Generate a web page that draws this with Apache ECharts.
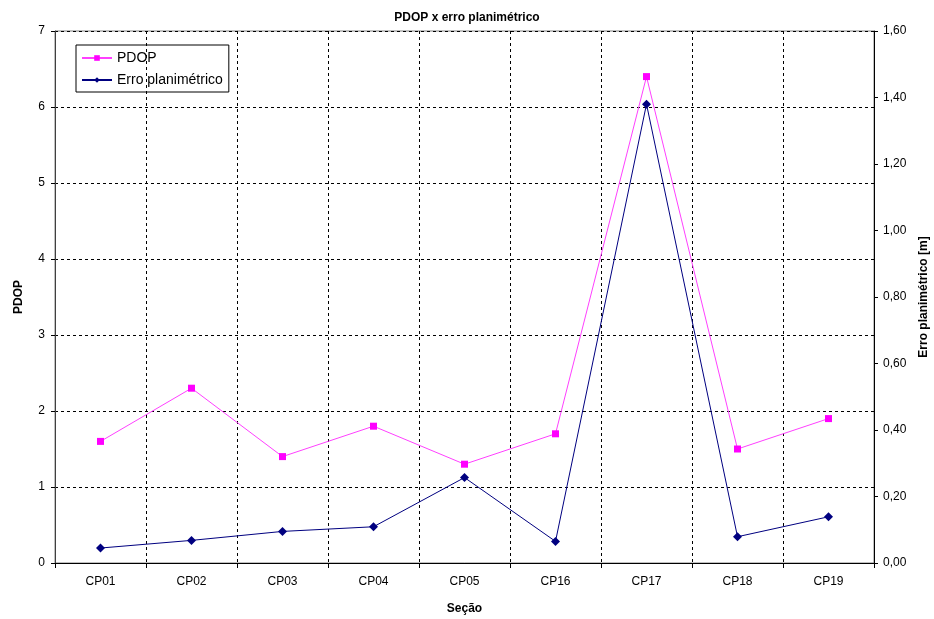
<!DOCTYPE html>
<html>
<head>
<meta charset="utf-8">
<script src="https://cdn.jsdelivr.net/npm/echarts@6/dist/echarts.min.js"></script>
<style>
  html, body { margin: 0; padding: 0; background: #fff; }
  #chart { width: 934px; height: 619px; }
</style>
</head>
<body>
<div id="chart"></div>
<script>
// dados
const secoes = ['CP01', 'CP02', 'CP03', 'CP04', 'CP05', 'CP16', 'CP17', 'CP18', 'CP19'];
const pdop = [1.6, 2.3, 1.4, 1.8, 1.3, 1.7, 6.4, 1.5, 1.9];
const erroPlan = [0.045, 0.068, 0.095, 0.109, 0.257, 0.065, 1.38, 0.079, 0.139];

const font = 'Liberation Sans, Arial, sans-serif';
const dashed = { color: '#000', width: 1, type: [3, 3] };

let myChart = echarts.init(document.getElementById('chart'));
myChart.setOption({
  backgroundColor: '#fff',
  animation: false,
  title: {
    text: 'PDOP x erro planimétrico',
    left: 'center',
    top: 7,
    textStyle: { fontFamily: font, fontSize: 12, fontWeight: 'bold', color: '#000' }
  },
  legend: {
    orient: 'vertical',
    left: 76,
    top: 45,
    borderColor: '#000',
    borderWidth: 1,
    padding: [6, 6, 5, 5],
    itemGap: 8,
    itemWidth: 30,
    itemHeight: 7,
    textStyle: { fontFamily: font, fontSize: 14, color: '#000' },
    data: ['PDOP', 'Erro planimétrico']
  },
  grid: {
    left: 55,
    right: 60,
    top: 31,
    bottom: 56,
    show: true,
    borderColor: '#808080',
    borderWidth: 1,
    containLabel: false,
    outerBoundsMode: 'none'
  },
  xAxis: {
    type: 'category',
    data: secoes,
    boundaryGap: true,
    name: 'Seção',
    nameLocation: 'middle',
    nameGap: 40,
    nameTextStyle: { fontFamily: font, fontSize: 12, fontWeight: 'bold', color: '#000' },
    axisLine: { lineStyle: { color: '#000', width: 1 } },
    axisTick: { show: true, length: 5, lineStyle: { color: '#000' } },
    axisLabel: { fontFamily: font, fontSize: 12, color: '#000', margin: 13 },
    splitLine: { show: true, lineStyle: dashed }
  },
  yAxis: [
    {
      type: 'value',
      min: 0,
      max: 7,
      interval: 1,
      name: 'PDOP',
      nameLocation: 'middle',
      nameGap: 30,
      nameRotate: 90,
      nameTextStyle: { fontFamily: font, fontSize: 12, fontWeight: 'bold', color: '#000' },
      axisLine: { show: true, lineStyle: { color: '#404040', width: 1 } },
      axisTick: { show: true, length: 4, lineStyle: { color: '#000' } },
      axisLabel: { fontFamily: font, fontSize: 12, color: '#000', margin: 10 },
      splitLine: { show: true, lineStyle: dashed }
    },
    {
      type: 'value',
      position: 'right',
      min: 0,
      max: 1.6,
      interval: 0.2,
      name: 'Erro planimétrico [m]',
      nameLocation: 'middle',
      nameGap: 42,
      nameRotate: 90,
      nameTextStyle: { fontFamily: font, fontSize: 12, fontWeight: 'bold', color: '#000' },
      axisLine: { show: true, lineStyle: { color: '#000', width: 1 } },
      axisTick: { show: true, length: 4, lineStyle: { color: '#000' } },
      axisLabel: {
        fontFamily: font, fontSize: 12, color: '#000', margin: 9,
        formatter: (v) => v.toFixed(2).replace('.', ',')
      },
      splitLine: { show: false }
    }
  ],
  series: [
    {
      name: 'PDOP',
      type: 'line',
      yAxisIndex: 0,
      data: pdop,
      symbol: 'rect',
      symbolSize: 7,
      color: '#FF00FF',
      lineStyle: { color: '#FF40FF', width: 1 },
      itemStyle: { color: '#FF00FF' }
    },
    {
      name: 'Erro planimétrico',
      type: 'line',
      yAxisIndex: 1,
      data: erroPlan,
      symbol: 'diamond',
      symbolSize: 9,
      color: '#000080',
      lineStyle: { color: '#000080', width: 1 },
      itemStyle: { color: '#000080' }
    }
  ]
});
window.addEventListener('resize', () => {
  myChart.resize();
});
</script>
</body>
</html>
